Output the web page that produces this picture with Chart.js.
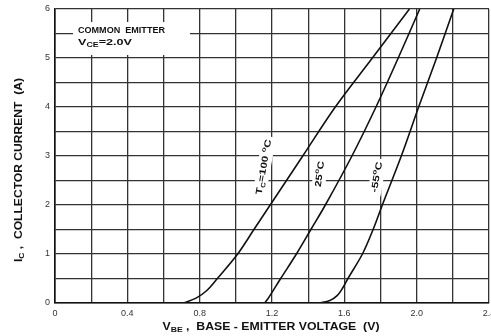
<!DOCTYPE html>
<html>
<head>
<meta charset="utf-8">
<script src="https://cdn.jsdelivr.net/npm/chart.js@4.4.1/dist/chart.umd.min.js"></script>
<style>
  html, body { margin: 0; padding: 0; background: #fff; }
  canvas { display: block; }
</style>
</head>
<body>
<canvas id="chart" width="491" height="336"></canvas>
<script>
// curve values: base-emitter voltage (V) vs collector current (A)
const v100 = [0.71, 0.78, 0.838, 0.898, 1.01, 1.10, 1.19, 1.37, 1.55, 1.755, 1.96];
const i100 = [0, 0.1, 0.25, 0.5, 1.0, 1.5, 2.0, 3.0, 4.0, 5.0, 6.0];

const v25 = [1.16, 1.18, 1.248, 1.335, 1.415, 1.495, 1.642, 1.775, 1.898, 2.017];
const i25 = [0, 0.1, 0.5, 1.0, 1.5, 2.0, 3.0, 4.0, 5.0, 6.0];

const vM55 = [1.46, 1.52, 1.56, 1.59, 1.62, 1.70, 1.759, 1.81, 1.915, 2.011, 2.11, 2.205];
const iM55 = [0, 0.05, 0.15, 0.30, 0.50, 1.0, 1.5, 2.0, 3.0, 4.0, 5.0, 6.0];

const xTickLabels = ['0', '0.4', '0.8', '1.2', '1.6', '2.0', '2.4'];
const yTickLabels = ['0', '1', '2', '3', '4', '5', '6'];

const FONT = '"Liberation Sans", Arial, sans-serif';

const toPoints = (xs, ys) => xs.map((x, i) => ({ x: x, y: ys[i] }));

const curve = (label, xs, ys) => ({
  label: label,
  data: toPoints(xs, ys),
  borderColor: '#111',
  borderWidth: 1.6,
  pointRadius: 0,
  fill: false,
  tension: 0.35
});

// text made of pieces, some of them subscript / superscript
const richWidth = (ctx, parts, size) => {
  let w = 0;
  parts.forEach(p => {
    ctx.font = 'bold ' + (p.sub || p.sup ? size * 0.7 : size) + 'px ' + FONT;
    w += ctx.measureText(p.t).width;
  });
  return w;
};

const drawRich = (ctx, parts, cx, cy, rot, len, size, mask) => {
  ctx.save();
  ctx.translate(cx, cy);
  ctx.rotate(rot * Math.PI / 180);
  const w = richWidth(ctx, parts, size);
  if (mask) {
    ctx.fillStyle = '#fff';
    ctx.fillRect(-len / 2 - 3, -size * 0.75, len + 6, size * 1.5);
  }
  ctx.scale(len / w, 1);
  ctx.fillStyle = '#111';
  ctx.textBaseline = 'middle';
  ctx.textAlign = 'left';
  let x = -w / 2;
  parts.forEach(p => {
    const s = p.sub || p.sup ? size * 0.7 : size;
    ctx.font = 'bold ' + s + 'px ' + FONT;
    const dy = p.sub ? size * 0.3 : (p.sup ? -size * 0.35 : 0);
    ctx.fillText(p.t, x, dy);
    x += ctx.measureText(p.t).width;
  });
  ctx.restore();
};

const labelsPlugin = {
  id: 'labels',
  beforeDatasetsDraw(chart) {
    const ctx = chart.ctx;
    // white box of the note, it cuts the grid
    ctx.save();
    ctx.fillStyle = '#fff';
    ctx.fillRect(73, 22, 117, 33);
    ctx.restore();
    drawRich(ctx, [{ t: 'COMMON  EMITTER' }], 78 + 43.5, 31, 0, 87, 9, false);
    drawRich(ctx, [{ t: 'V' }, { t: 'CE', sub: true }, { t: '=2.0V' }], 78 + 27, 43, 0, 54, 9, false);

    drawRich(ctx, [{ t: 'T' }, { t: 'C', sub: true }, { t: '=100 ' }, { t: 'o', sup: true }, { t: 'C' }],
      264, 167, -80, 56, 9, true);
    drawRich(ctx, [{ t: '25' }, { t: 'o', sup: true }, { t: 'C' }], 320, 174, -82, 26, 9, true);
    drawRich(ctx, [{ t: '-55' }, { t: 'o', sup: true }, { t: 'C' }], 377, 177, -80, 31, 9, true);
  },
  afterDraw(chart) {
    const ctx = chart.ctx;
    drawRich(ctx, [{ t: 'I' }, { t: 'C', sub: true }, { t: ' ,  COLLECTOR CURRENT  (A)' }], 19, 170, -90, 184, 10, false);
    drawRich(ctx, [{ t: 'V' }, { t: 'BE', sub: true }, { t: ' ,  BASE - EMITTER VOLTAGE  (V)' }], 271, 327, 0, 217, 10, false);
  }
};

new Chart(document.getElementById('chart').getContext('2d'), {
  type: 'line',
  data: {
    datasets: [
      curve('100', v100, i100),
      curve('25', v25, i25),
      curve('-55', vM55, iM55)
    ]
  },
  options: {
    responsive: false,
    animation: false,
    devicePixelRatio: 1,
    layout: { padding: { top: 9, right: 2, left: 0, bottom: 0 } },
    plugins: { legend: { display: false }, tooltip: { enabled: false } },
    scales: {
      x: {
        type: 'linear',
        min: 0,
        max: 2.4,
        ticks: {
          stepSize: 0.2,
          autoSkip: false,
          maxRotation: 0,
          padding: 5,
          color: '#333',
          font: { family: FONT, size: 9 },
          callback: v => {
            const k = Math.round(v * 10);
            return k % 4 === 0 ? xTickLabels[k / 4] : '';
          }
        },
        grid: { color: '#333', lineWidth: 1.3, drawTicks: false },
        border: { color: '#111', width: 1.6 },
        afterFit: s => { s.height = 33; s.paddingLeft = 0; s.paddingRight = 0; }
      },
      y: {
        min: 0,
        max: 6,
        ticks: {
          stepSize: 0.5,
          autoSkip: false,
          padding: 5,
          color: '#333',
          font: { family: FONT, size: 9 },
          callback: v => (Math.round(v * 2) % 2 === 0 ? yTickLabels[Math.round(v)] : '')
        },
        grid: { color: '#333', lineWidth: 1.3, drawTicks: false },
        border: { color: '#111', width: 1.6 },
        afterFit: s => { s.width = 55; s.paddingTop = 0; s.paddingBottom = 0; }
      }
    }
  },
  plugins: [labelsPlugin]
});
</script>
</body>
</html>
